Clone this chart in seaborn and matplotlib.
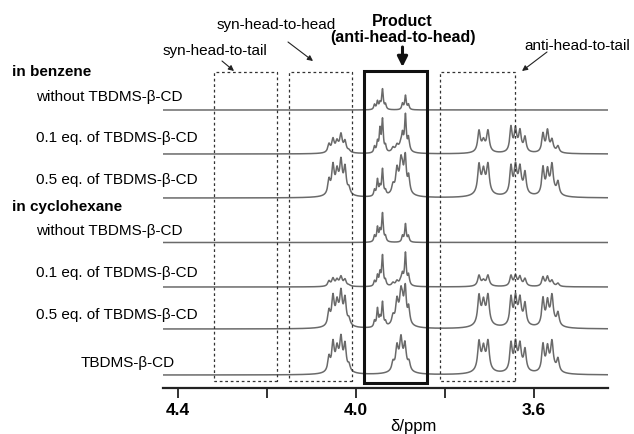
import numpy as np
import pandas as pd
import matplotlib
matplotlib.use("Agg")
import matplotlib.pyplot as plt
import seaborn as sns
from matplotlib.patches import Rectangle, FancyArrowPatch

# ---------------- data ----------------
row_labels = ["without TBDMS-\u03b2-CD", "0.1 eq. of TBDMS-\u03b2-CD", "0.5 eq. of TBDMS-\u03b2-CD",
              "without TBDMS-\u03b2-CD", "0.1 eq. of TBDMS-\u03b2-CD", "0.5 eq. of TBDMS-\u03b2-CD",
              "TBDMS-\u03b2-CD"]
group_labels = ["in benzene", "in cyclohexane"]

# line positions (ppm) of the multiplets
syn_hh_ppm = [4.0607, 4.0517, 4.0427, 4.0337, 4.0247, 4.0157]
prod1_ppm = [3.9584, 3.9517, 3.9461, 3.9404, 3.9337]
prod2_ppm = [3.8955, 3.8888, 3.8820]
cdmid_ppm = [3.9169, 3.9079, 3.8989, 3.8899, 3.8809]
anti1_ppm = [3.7236, 3.7135, 3.7034]
anti2_ppm = [3.6517, 3.6416, 3.6315, 3.6202]
anti3_ppm = [3.5798, 3.5697, 3.5596, 3.5461]
env_ppm = [4.0382, 3.8989, 3.7135, 3.6360, 3.5618]   # broad cluster envelopes

# line heights per spectrum (top to bottom)
syn_hh_h = [[0] * 6, [8, 12, 8, 15, 10, 2], [14, 26, 16, 26, 24, 6],
            [0] * 6, [5, 7, 5, 8, 6, 1], [14, 26, 16, 26, 24, 6], [14, 26, 16, 26, 24, 6]]
prod1_h = [[5, 8, 6, 20, 5], [6, 10, 22, 32, 6], [6, 16, 8, 26, 4],
           [6, 14, 10, 28, 5], [5, 10, 12, 30, 5], [6, 18, 8, 24, 4], [0] * 5]
prod2_h = [[6, 14, 5], [12, 30, 10], [8, 12, 8],
           [6, 18, 6], [8, 28, 8], [8, 12, 8], [0] * 3]
cdmid_h = [[0] * 5, [4, 5, 5, 5, 3], [8, 20, 24, 22, 8],
           [0] * 5, [3, 4, 4, 4, 2], [8, 20, 24, 22, 8], [8, 20, 24, 22, 8]]
anti1_h = [[0] * 3, [20, 8, 20], [26, 16, 26],
           [0] * 3, [10, 4, 10], [26, 16, 26], [26, 16, 26]]
anti2_h = [[0] * 4, [24, 20, 18, 14], [26, 22, 20, 20],
           [0] * 4, [10, 9, 8, 7], [26, 22, 20, 20], [26, 22, 20, 20]]
anti3_h = [[0] * 4, [18, 20, 10, 6], [26, 20, 24, 12],
           [0] * 4, [9, 9, 5, 3], [26, 20, 24, 12], [26, 20, 24, 12]]
env_h = [[0] * 5, [4, 5, 4, 4, 3], [10, 11, 10, 10, 8],
         [0] * 5, [2, 2, 2, 2, 1], [10, 11, 10, 10, 8], [10, 11, 10, 10, 8]]

tick_values = [4.4, 4.2, 4.0, 3.8, 3.6]
tick_labels = ["4.4", "", "4.0", "", "3.6"]

region_names = ["syn-head-to-tail", "syn-head-to-head", "Product\n(anti-head-to-head)", "anti-head-to-tail"]
region_ppm = [(4.3200, 4.1775), (4.1506, 4.0090), (3.9820, 3.8404), (3.8112, 3.6427)]

# ---------------- layout ----------------
W, H = 634, 435
offsets = [278, 234, 190, 145.5, 101, 59, 13]   # baseline height above axis (px)
XL, XR = 4.4337, 3.4337
PX = 445.0  # px per ppm

sns.set_style("white")
plt.rcParams["font.family"] = ["Liberation Sans", "DejaVu Sans"]
plt.rcParams["text.color"] = "black"
plt.rcParams["xtick.color"] = "black"

fig = plt.figure(figsize=(W / 100, H / 100), dpi=100)
ax = fig.add_axes([163 / W, 46 / H, 445 / W, 389 / H])

grid = np.linspace(XR, XL, 3000)
frames = []
groups = [(syn_hh_ppm, syn_hh_h, 1.4), (prod1_ppm, prod1_h, 0.9), (prod2_ppm, prod2_h, 0.9),
          (cdmid_ppm, cdmid_h, 1.4), (anti1_ppm, anti1_h, 1.5), (anti2_ppm, anti2_h, 1.4),
          (anti3_ppm, anti3_h, 1.4), (env_ppm, env_h, 6.0)]
for i in range(7):
    y = np.zeros_like(grid)
    for pos, hts, wpx in groups:
        w = wpx / PX
        for p, h in zip(pos, hts[i]):
            y += h / (1 + ((grid - p) / w) ** 2)
    frames.append(pd.DataFrame({"ppm": grid, "y": y + offsets[i], "spec": i}))
df = pd.concat(frames, ignore_index=True)

sns.lineplot(data=df, x="ppm", y="y", hue="spec", palette=["#6a6a6a"] * 7,
             estimator=None, sort=False, legend=False, linewidth=1.1, ax=ax)

ax.set_xlim(XL, XR)
ax.set_ylim(0, 389)
for s in ["left", "right", "top"]:
    ax.spines[s].set_visible(False)
ax.spines["bottom"].set_linewidth(1.6)
ax.spines["bottom"].set_color("#222222")
ax.set_yticks([])
ax.set_xticks(tick_values)
ax.set_xticklabels(tick_labels, fontsize=12.5, fontweight="bold")
ax.tick_params(axis="x", bottom=True, direction="out", length=7, width=1.3,
               color="#222222", pad=3)
ax.set_xlabel("")
ax.set_ylabel("")

# region boxes
for k, (a, b) in enumerate(region_ppm):
    if k == 2:
        ax.add_patch(Rectangle((b, 5.5), a - b, 311.8, fill=False, lw=2.2, ec="#111111", zorder=5))
    else:
        ax.add_patch(Rectangle((b, 7), a - b, 309.3, fill=False, lw=0.9, ec="#333333",
                               ls=(0, (2.2, 2.2)), zorder=5))


def F(px, py):
    return (px / W, 1 - py / H)


# left labels
fig.text(*F(12, 72), group_labels[0], fontsize=11, fontweight="bold", va="center", ha="left")
fig.text(*F(12, 207), group_labels[1], fontsize=11, fontweight="bold", va="center", ha="left")
label_y = [97, 138.5, 180, 231, 273.5, 315, 363.5]
for i, lab in enumerate(row_labels):
    x0 = 81 if i == 6 else 36.5
    fig.text(*F(x0, label_y[i]), lab, fontsize=11, va="center", ha="left")

# region titles and arrows
fig.text(*F(215, 50.7), region_names[0], fontsize=11, ha="center", va="center")
fig.text(*F(276, 25), region_names[1], fontsize=11, ha="center", va="center")
fig.text(*F(402.5, 29.5), region_names[2], fontsize=11.5, fontweight="bold", ha="center",
         va="center", linespacing=1.15)
fig.text(*F(577, 46), region_names[3], fontsize=11, ha="center", va="center")

thin = dict(arrowstyle="-|>", lw=0.8, color="#222222", mutation_scale=8, shrinkA=0, shrinkB=0)
for (x1, y1), (x2, y2) in [((222, 62), (234, 72)), ((288, 43), (313, 62)), ((547, 53), (522, 72))]:
    fig.add_artist(FancyArrowPatch(F(x1, y1), F(x2, y2), transform=fig.transFigure, **thin))
fig.add_artist(FancyArrowPatch(F(402.5, 48), F(402.5, 68), transform=fig.transFigure,
                               arrowstyle="-|>", lw=2.2, color="#111111",
                               mutation_scale=15, shrinkA=0, shrinkB=0))

fig.text(*F(413.5, 426.5), "\u03b4/ppm", fontsize=12, ha="center", va="center")

fig.savefig("out.png", dpi=100)
